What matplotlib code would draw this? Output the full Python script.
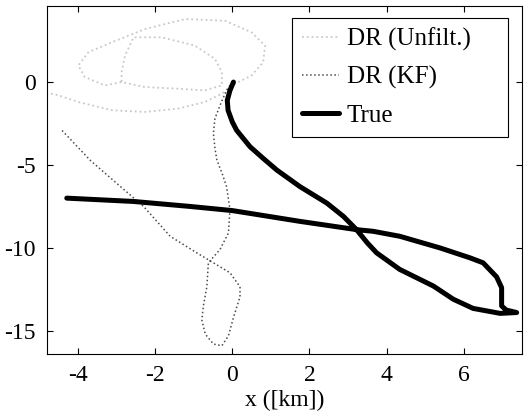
import numpy as np
import matplotlib.pyplot as plt

plt.rcParams['font.family'] = ['Liberation Serif', 'DejaVu Serif']
plt.rcParams['axes.unicode_minus'] = False

# dead reckoning, unfiltered (x, y in km)
unf_x = [-4.7, -4.5, -3.99, -3.12, -2.26, -1.4, -0.71, -0.27, 0.07, 0.5, 0.8, 0.85, 0.5,
         -0.19, -1.22, -2.26, -3.12, -3.73, -3.99, -3.82, -3.3, -2.87, -2.26, -1.4, -0.71,
         -0.27, -0.27, -0.45, -0.97, -1.83, -2.56, -2.78, -2.87, -2.87]
unf_y = [-0.7, -0.8, -1.2, -1.7, -1.8, -1.6, -1.2, -0.7, -0.1, 0.4, 1.2, 2.2, 3.0,
         3.7, 3.8, 3.2, 2.4, 1.8, 1.0, 0.3, -0.2, 0.0, -0.3, -0.4, -0.5,
         -0.2, 0.6, 1.4, 2.2, 2.7, 2.7, 1.6, 0.6, 0.0]

# dead reckoning, Kalman filtered
kf_x = [0.0, -0.15, -0.3, -0.45, -0.49, -0.45, -0.4, -0.25, -0.15, -0.06, -0.1, -0.32,
        -0.62, -0.66, -0.75, -0.79, -0.7, -0.49, -0.27, -0.1, 0.03, 0.2, 0.2, -0.06,
        -0.49, -0.92, -1.61, -2.3, -3.0, -3.69, -4.42]
kf_y = [0.0, -0.5, -1.3, -2.2, -3.1, -4.0, -4.7, -5.6, -6.3, -7.7, -9.1, -10.1,
        -10.9, -12.35, -13.5, -14.35, -15.2, -15.8, -15.9, -15.3, -14.2, -12.95, -12.35, -11.5,
        -10.9, -10.3, -9.3, -7.5, -6.1, -4.7, -2.9]

# true track
true_x = [0.03, -0.06, -0.13, -0.11, 0.0, 0.11, 0.46, 0.8, 1.15, 1.45, 1.75, 2.1, 2.45,
          2.88, 3.22, 3.5, 3.74, 4.34, 5.21, 5.73, 6.24, 6.94, 7.37, 7.1, 6.98, 6.98,
          6.85, 6.5, 6.16, 5.38, 4.34, 3.65, 3.22, 1.75, 0.0, -1.1, -2.56, -4.29]
true_y = [0.0, -0.5, -1.1, -1.7, -2.4, -2.9, -3.9, -4.6, -5.3, -5.8, -6.3, -6.8, -7.3,
          -8.1, -8.9, -9.7, -10.3, -11.3, -12.3, -13.1, -13.65, -13.95, -13.9, -13.75, -13.5, -12.4,
          -11.75, -10.9, -10.6, -10.0, -9.3, -9.0, -8.9, -8.4, -7.75, -7.5, -7.2, -7.0]

fig = plt.figure(figsize=(5.26, 4.15), dpi=100)
ax = fig.add_axes([0.0888, 0.147, 0.903, 0.839])

ax.plot(unf_x, unf_y, ':', color='#c8c8c8', lw=1.3, label='DR (Unfilt.)')
ax.plot(kf_x, kf_y, ':', color='#4a4a4a', lw=1.1, label='DR (KF)')
ax.plot(true_x, true_y, '-', color='k', lw=3.6, solid_capstyle='round',
        solid_joinstyle='round', label='True')

ax.set_xlim(-4.81, 7.5)
ax.set_ylim(-16.4, 4.6)
ax.set_xticks([-4, -2, 0, 2, 4, 6])
ax.set_yticks([-15, -10, -5, 0])
ax.tick_params(direction='in', top=True, right=True, labelsize=17, length=4, pad=8)
ax.set_xlabel('x ([km])', fontsize=17, labelpad=3)

# matlab style legend box, wide with empty space on the right
leg = ax.legend(loc='upper left', bbox_to_anchor=(0.516, 0.0, 0.455, 0.965), mode='expand',
                fontsize=18, handlelength=1.5, handletextpad=0.3, borderaxespad=0,
                fancybox=False, framealpha=1, edgecolor='k', labelspacing=0.6,
                borderpad=0.4)
leg.get_frame().set_linewidth(0.8)

fig.savefig('out.png', dpi=100)
